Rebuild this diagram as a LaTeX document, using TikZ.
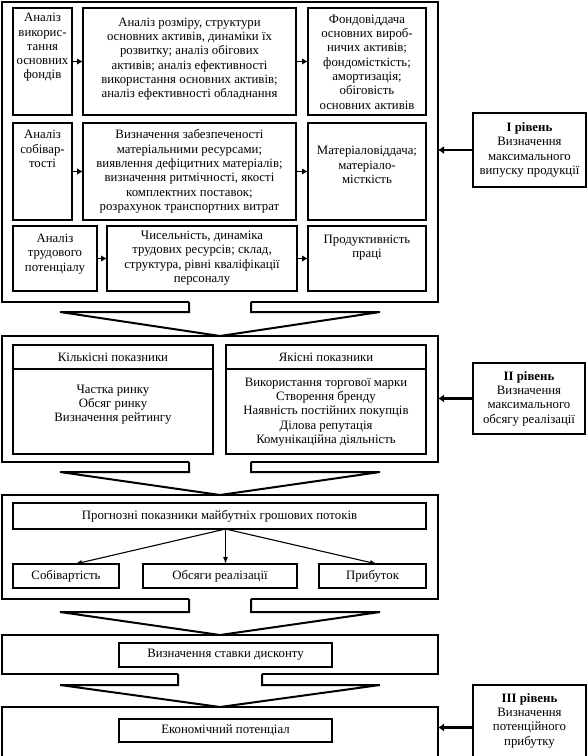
\documentclass[tikz,border=0pt]{standalone}
\usepackage{fontspec}
\setmainfont{Liberation Serif}
\usetikzlibrary{calc,arrows.meta}
\newcommand\mkbox[7]{\node[#1, minimum width={(#5)-(#3)}, minimum height={(#6)-(#4)}, anchor=north west] (#2) at (#3,#4) {#7};}
\newcommand\blkarrow[5]{%
  \fill[white] ($(#1.south)+(-#3,-2)$) rectangle ($(#1.south)+(#3,#4)$);
  \draw[blk] ($(#1.south)+(-#3,0)$) -- ($(#1.south)+(-#3,#4)$) -- ($(#1.south)+(-#5,#4)$)
     -- (#2.north) -- ($(#1.south)+(#5,#4)$) -- ($(#1.south)+(#3,#4)$) -- ($(#1.south)+(#3,0)$);}
\begin{document}
\begin{tikzpicture}[x=1pt,y=-1pt,
  outerbox/.style={draw, line width=2pt, inner sep=0pt, outer sep=0pt},
  ibox/.style={draw, line width=1.5pt, inner sep=0pt, outer sep=0pt},
  sbox/.style={draw, line width=1.1pt, inner sep=0pt, outer sep=0pt, align=center},
  lvl/.style={draw, line width=2pt, inner sep=0pt, outer sep=0pt, align=center},
  txt/.style={inner sep=0pt, outer sep=0pt, align=center},
  sarr/.style={line width=1.5pt, -{Latex[length=6pt,width=6.5pt]}},
  larr/.style={line width=2.6pt, -{Latex[length=6pt,width=8pt]}},
  farr/.style={line width=1.1pt, -{Latex[length=7pt,width=5pt]}},
  blk/.style={line width=2pt},
  font=\fontsize{12.8}{14.3}\selectfont]
\useasboundingbox[fill=white] (0,0) rectangle (588,756);

% ---------- Level I block ----------
\mkbox{outerbox}{B1}{2}{2}{438}{302}{}
\mkbox{ibox}{a1}{13}{8}{72}{115}{}
\mkbox{ibox}{a2}{83}{8}{296}{115}{}
\mkbox{ibox}{a3}{308}{8}{426}{115}{}
\mkbox{ibox}{b1}{13}{123}{72}{220}{}
\mkbox{ibox}{b2}{83}{123}{296}{220}{}
\mkbox{ibox}{b3}{308}{123}{426}{220}{}
\mkbox{ibox}{c1}{13}{226}{97}{291}{}
\mkbox{ibox}{c2}{107}{226}{297}{291}{}
\mkbox{ibox}{c3}{308}{226}{426}{291}{}

\node[txt] (ta1) at (42.5,47.5) {Аналіз\\викорис-\\тання\\основних\\фондів};
\node[txt] (ta2) at (189.5,59) {Аналіз розміру, структури\\основних активів, динаміки їх\\розвитку; аналіз обігових\\активів; аналіз ефективності\\використання основних активів;\\аналіз ефективності обладнання};
\node[txt] (ta3) at (367,62) {Фондовіддача\\основних вироб-\\ничих активів;\\фондомісткість;\\амортизація;\\обіговість\\основних активів};
\node[txt] (tb1) at (42.5,149) {Аналіз\\собівар-\\тості};
\node[txt] (tb2) at (189.5,171.5) {Визначення забезпеченості\\матеріальними ресурсами;\\виявлення дефіцитних матеріалів;\\визначення ритмічності, якості\\комплектних поставок;\\розрахунок транспортних витрат};
\node[txt] (tb3) at (367,165) {Матеріаловіддача;\\матеріало-\\місткість};
\node[txt] (tc1) at (55,254) {Аналіз\\трудового\\потенціалу};
\node[txt] (tc2) at (202,258) {Чисельність, динаміка\\трудових ресурсів; склад,\\структура, рівні кваліфікації\\персоналу};
\node[txt] (tc3) at (367,247.5) {Продуктивність\\праці};

\draw[sarr] (a1.east) -- (a2.west);
\draw[sarr] (a2.east) -- (a3.west);
\draw[sarr] (b1.east) -- (b2.west);
\draw[sarr] (b2.east) -- (b3.west);
\draw[sarr] (c1.east) -- (c2.west);
\draw[sarr] (c2.east) -- (c3.west);

\mkbox{lvl}{L1}{473}{113}{586}{187}{\textbf{I рівень}\\Визначення\\максимального\\випуску продукції}
\draw[larr] (L1.west) -- (B1.east |- L1.west);

% ---------- Level II block ----------
\mkbox{outerbox}{B2}{2}{336}{438}{462}{}
\blkarrow{B1}{B2}{31}{10}{160}
\mkbox{sbox}{kh}{13}{345}{213}{369}{Кількісні показники}
\mkbox{sbox}{kb}{13}{369}{213}{454}{}
\mkbox{sbox}{yh}{226}{345}{426}{369}{Якісні показники}
\mkbox{sbox}{yb}{226}{369}{426}{454}{}
\node[txt] (tkb) at (113,404.5) {Частка ринку\\Обсяг ринку\\Визначення рейтингу};
\node[txt] (tyb) at (326,412) {Використання торгової марки\\Створення бренду\\Наявність постійних покупців\\Ділова репутація\\Комунікаційна діяльність};

\mkbox{lvl}{L2}{473}{363}{585}{434}{\textbf{II рівень}\\Визначення\\максимального\\обсягу реалізації}
\draw[larr] (L2.west) -- (B2.east |- L2.west);

% ---------- Cash flow block ----------
\mkbox{outerbox}{B3}{2}{495}{438}{599}{}
\blkarrow{B2}{B3}{31}{10}{160}
\mkbox{sbox}{p}{13}{503}{426}{529}{Прогнозні показники майбутніх грошових потоків}
\mkbox{sbox}{s1}{13}{564}{119}{588}{Собівартість}
\mkbox{sbox}{s2}{143}{564}{297}{588}{Обсяги реалізації}
\mkbox{sbox}{s3}{319}{564}{426}{588}{Прибуток}
\coordinate (src) at ($(p.south)+(6,0)$);
\draw[farr] (src) -- ($(s1.north)+(9,0)$);
\draw[farr] (src) -- (s2.north -| src);
\draw[farr] (src) -- ($(s3.north)+(4.5,0)$);

% ---------- Discount block ----------
\mkbox{outerbox}{B4}{2}{635}{438}{674}{}
\blkarrow{B3}{B4}{31}{13}{160}
\mkbox{sbox}{d}{119}{643}{332}{667}{Визначення ставки дисконту}

% ---------- Economic potential ----------
\mkbox{outerbox}{B5}{2}{707}{438}{762}{}
\blkarrow{B4}{B5}{42}{11}{160}
\mkbox{sbox}{e}{119}{719}{332}{742}{Економічний потенціал}

\mkbox{lvl}{L3}{473}{685}{586}{762}{}
\node[txt] (tl3) at (529.5,720.5) {\textbf{III рівень}\\Визначення\\потенційного\\прибутку};
\coordinate (l3a) at ($(L3.west)+(0,4)$);
\draw[larr] (l3a) -- (B5.east |- l3a);
\end{tikzpicture}
\end{document}
